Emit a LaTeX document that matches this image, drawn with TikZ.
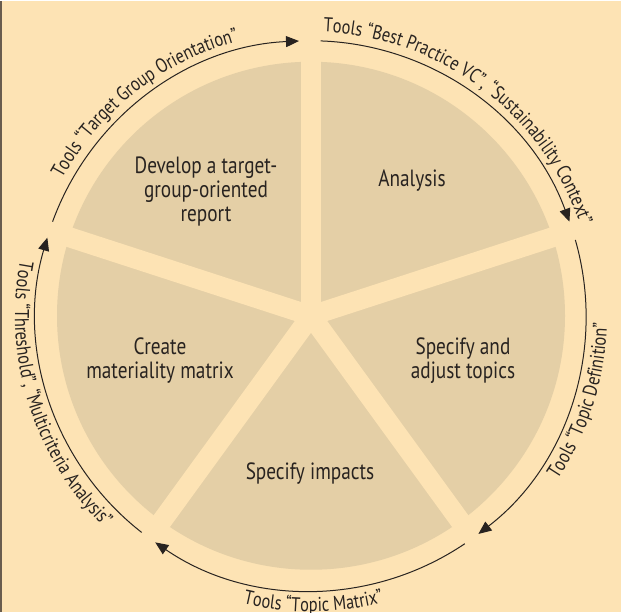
\documentclass[tikz,border=0pt]{standalone}
\usepackage{fontspec}
\setmainfont[FakeStretch=0.82]{PT Sans}
\usetikzlibrary{arrows.meta,decorations.text,calc}

\definecolor{paper}{RGB}{253,227,180}
\definecolor{wedge}{RGB}{228,207,166}
\definecolor{ink}{RGB}{40,35,32}
\definecolor{edge}{RGB}{105,92,78}

\newcommand{\stagefont}{\fontsize{23.5}{24}\selectfont}
\newcommand{\toolfont}{\fontsize{20}{22}\selectfont}

\begin{document}
\begin{tikzpicture}[x=1pt, y=1pt]
        \tikzstyle{blk} = [draw, ink, line width=1pt, -{Triangle[length=13pt, width=11pt]}]
        \tikzstyle{stage} = [align=center, text=ink, font=\stagefont, inner sep=0pt]
        \tikzstyle{gap} = [draw=paper, line width=20pt]
        \tikzstyle{tool} = [decorate, decoration={text along path, text align=center, text color=ink}]

        \fill[paper] (0,0) rectangle (621,611);
        \draw[edge, line width=1.5pt] (0.75,0) -- (0.75,611);
        \useasboundingbox (0,0) rectangle (621,611);

        \coordinate (c) at (311,296);
        \fill[wedge] (c) circle[radius=254];
        \foreach \a in {90,18,-54,-126,162}
            \draw[gap] (c) -- ++(\a:270);
        \fill[paper] (c) circle[radius=10];

        \node[stage] (analysis) at (412,431) {Analysis};
        \node[stage] (specify topics) at (463,251) {Specify and\\adjust topics};
        \node[stage] (specify impacts) at (310,138) {Specify impacts};
        \node[stage] (matrix) at (160,251) {Create\\materiality matrix};
        \node[stage] (report) at (206,420) {Develop a target-\\group-oriented\\report};

        \draw[blk] ($(c)+(160:275)$) arc[start angle=160, end angle=92.5, radius=275];
        \draw[blk] ($(c)+(88:275)$) arc[start angle=88, end angle=20, radius=275];
        \draw[blk] ($(c)+(16:275)$) arc[start angle=16, end angle=-52.5, radius=275];
        \draw[blk] ($(c)+(-56:275)$) arc[start angle=-56, end angle=-124.5, radius=275];
        \draw[blk] ($(c)+(-128:275)$) arc[start angle=-128, end angle=-196.5, radius=275];

        \path[tool, decoration={text={|\toolfont|Tools “Target Group Orientation”}}]
            ($(c)+(154:284)$) arc[start angle=154, end angle=102, radius=284];
        \path[tool, decoration={text={|\toolfont|Tools “Best Practice VC”, “Sustainability Context”}, text align=left}]
            ($(c)+(87.5:284)$) arc[start angle=87.5, end angle=8, radius=284];
        \path[tool, decoration={text={|\toolfont|Tools “Topic Definition”}}]
            ($(c)+(-36:296)$) arc[start angle=-36, end angle=1, radius=296];
        \path[tool, decoration={text={|\toolfont|Tools “Topic Matrix”}}]
            ($(c)+(-106:296)$) arc[start angle=-106, end angle=-73, radius=296];
        \path[tool, decoration={text={|\toolfont|Tools “Threshold”, “Multicriteria Analysis”}}]
            ($(c)+(165:296)$) arc[start angle=165, end angle=230, radius=296];
\end{tikzpicture}
\end{document}
